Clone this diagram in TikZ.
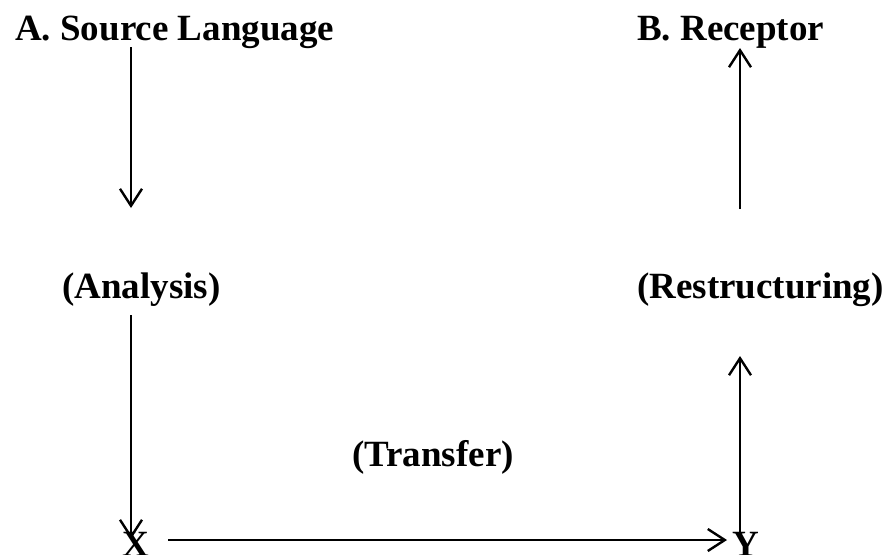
\documentclass[tikz,border=0pt]{standalone}
\usepackage{fontspec}
\setmainfont{Liberation Serif}
\usetikzlibrary{arrows.meta}
\begin{document}
\begin{tikzpicture}[x=1pt,y=-1pt,
  lbl/.style={inner sep=0pt,anchor=base west,font=\fontsize{37}{44}\selectfont\bfseries},
  flow/.style={line width=2.4pt,-{Straight Barb[length=17pt,width=22pt,line width=2.4pt]}}]
\useasboundingbox (0,0) rectangle (888,554);
% labels
\node[lbl] (src) at (15,40) {A. Source Language};
\node[lbl] (rec) at (637,40) {B. Receptor};
\node[lbl] (ana) at (62,298) {(Analysis)};
\node[lbl] (res) at (637,298) {(Restructuring)};
\node[lbl] (tra) at (352,466) {(Transfer)};
\node[lbl] (x) at (122,556) {X};
\node[lbl] (y) at (732,556) {Y};
% free ends of the connectors
\coordinate (a1s) at (131,47);
\coordinate (a1e) at (131,208);
\coordinate (a2s) at (131,315);
\coordinate (a2e) at (131,539);
\coordinate (hs) at (168,540);
\coordinate (he) at (727,540);
\coordinate (r1s) at (740,540);
\coordinate (r1e) at (740,356);
\coordinate (r2s) at (740,209);
\coordinate (r2e) at (740,48);
% connectors
\draw[flow] (a1s) -- (a1e);
\draw[flow] (a2s) -- (a2e);
\draw[flow] (hs) -- (he);
\draw[flow] (r1s) -- (r1e);
\draw[flow] (r2s) -- (r2e);
\end{tikzpicture}
\end{document}
